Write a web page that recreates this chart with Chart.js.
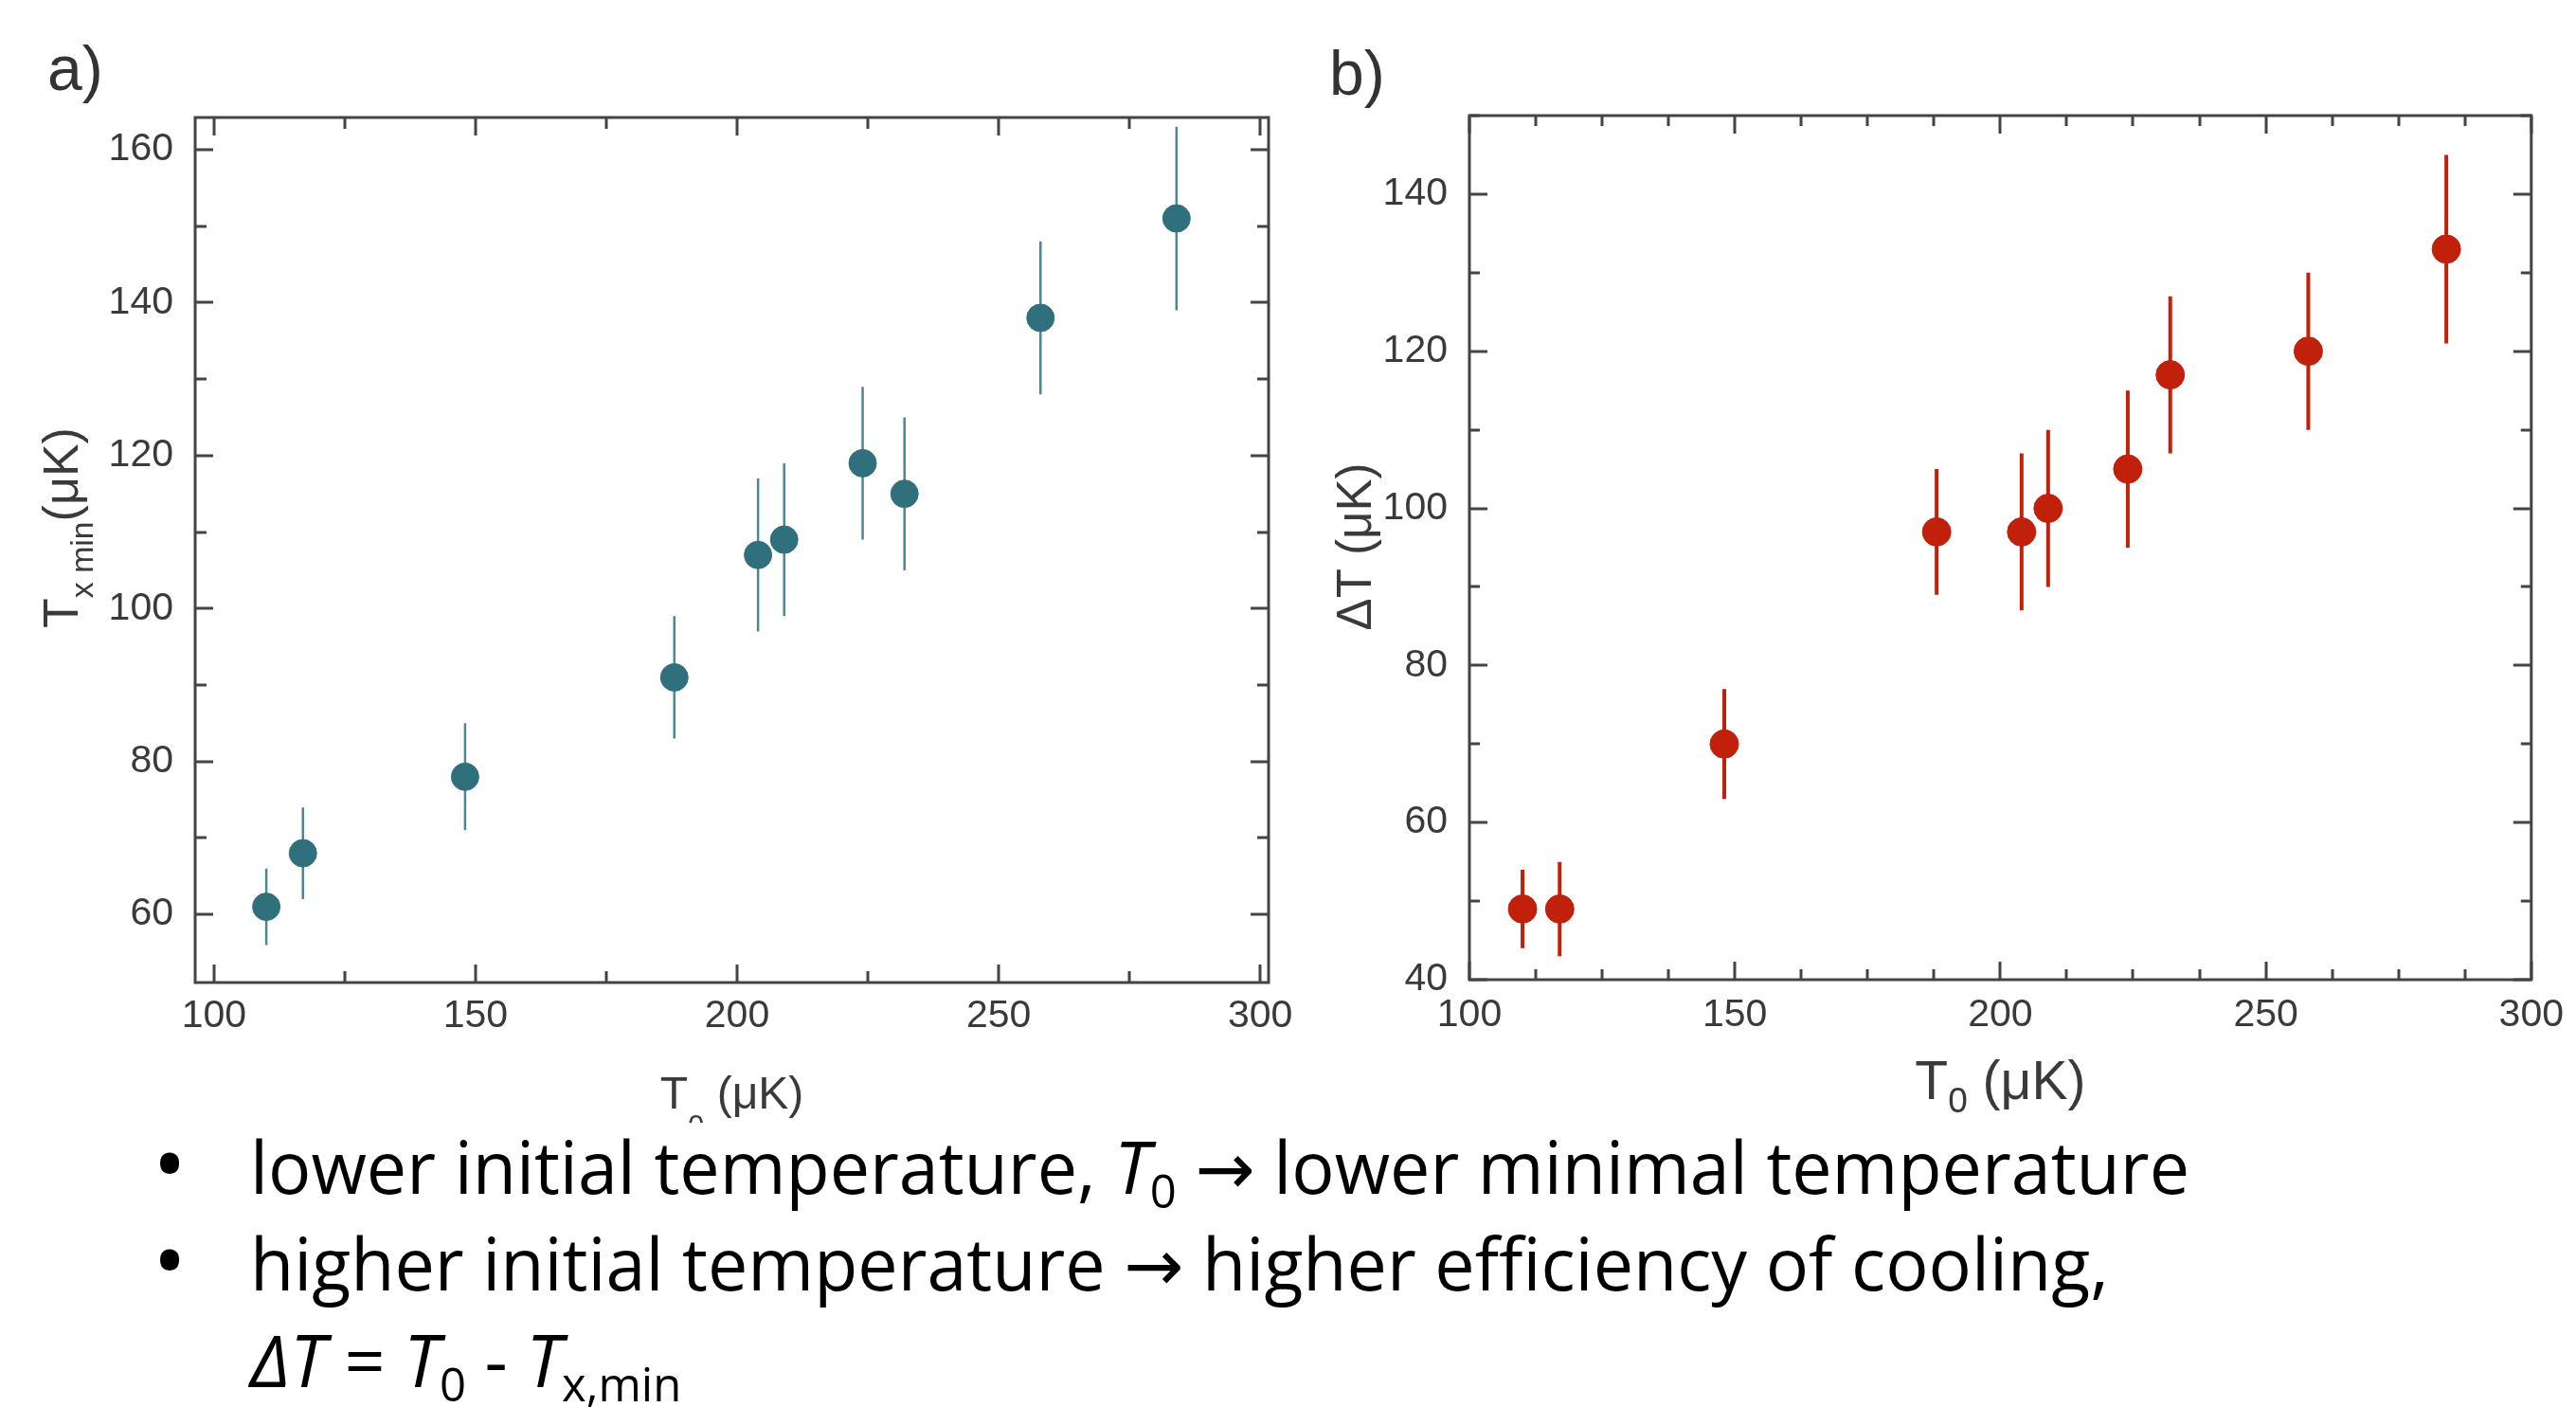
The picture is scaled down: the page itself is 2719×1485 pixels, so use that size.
<!DOCTYPE html>
<html>
<head>
<meta charset="utf-8">
<script src="https://cdn.jsdelivr.net/npm/chart.js@4.4.0/dist/chart.umd.min.js"></script>
<style>
  html, body { margin: 0; padding: 0; background: #fff; width: 2719px; height: 1485px; overflow: hidden; }
  body { position: relative; font-family: "Liberation Sans", Arial, sans-serif; }
  canvas { position: absolute; top: 0; }
  #chartA { left: 0; }
  #chartB { left: 1360px; }
  .panel { position: absolute; font-size: 66px; line-height: 1; color: #333; }
  .line { position: absolute; left: 264px; font-family: "Open Sans", sans-serif; font-size: 76px; line-height: 1; color: #000; white-space: nowrap; transform-origin: 0 0; }
  .dot { position: absolute; left: 161px; font-family: "Open Sans", sans-serif; font-size: 96px; line-height: 1; color: #000; }
  .arr { font-family: "DejaVu Sans", sans-serif; }
  sub { font-size: 0.65em; vertical-align: -0.3em; line-height: 0; font-style: normal; }
</style>
</head>
<body>
<canvas id="chartA" width="1400" height="1185"></canvas>
<canvas id="chartB" width="1359" height="1200"></canvas>

<div class="panel" style="left:50px; top:39px">a)</div>
<div class="panel" style="left:1403px; top:44px">b)</div>

<div class="dot" style="top:1178px">•</div>
<div class="line" style="top:1193px">lower initial temperature, <i>T</i><sub>0</sub> <span class="arr">→</span> lower minimal temperature</div>
<div class="dot" style="top:1280px">•</div>
<div class="line" style="top:1295px">higher initial temperature <span class="arr">→</span> higher efficiency of cooling,</div>
<div class="line" style="top:1397px"><i>ΔT</i> = <i>T</i><sub>0</sub> - <i>T</i><sub>x,min</sub></div>

<script>
// initial temperature T0 (µK), shared by both panels
const t0 = [110, 117, 148, 188, 204, 209, 224, 232, 258, 284]
// panel a: minimal temperature and its error
const txMin = [61, 68, 78, 91, 107, 109, 119, 115, 138, 151]
const txMinErr = [5, 6, 7, 8, 10, 10, 10, 10, 10, 12]
// panel b: cooling efficiency ΔT and its error
const deltaT = [49, 49, 70, 97, 97, 100, 105, 117, 120, 133]
const deltaTErr = [5, 6, 7, 8, 10, 10, 10, 10, 10, 12]

const axisColor = '#444'
const textColor = '#3a3a3a'
const fontFamily = '"Liberation Sans", Arial, sans-serif'

const points = (xs, ys) => xs.map((x, i) => ({x: x, y: ys[i]}))
// vertical error bars as one broken line: low, high, gap
const errorSegments = (xs, ys, es) => xs.flatMap((x, i) => [
    {x: x, y: ys[i] - es[i]},
    {x: x, y: ys[i] + es[i]},
    {x: x, y: null}
])

const isMajor = (v, step) => Math.abs(v / step - Math.round(v / step)) < 1e-6

const drawRich = (ctx, t, x, y, rotate) => {
    ctx.save()
    ctx.translate(x, y)
    if (rotate) ctx.rotate(-Math.PI / 2)
    ctx.fillStyle = textColor
    ctx.textBaseline = 'alphabetic'
    const sizes = t.parts.map(p => p.sub ? t.size * 0.65 : t.size)
    let total = 0
    const widths = t.parts.map((p, i) => {
        ctx.font = sizes[i] + 'px ' + fontFamily
        const w = ctx.measureText(p.t).width
        total += w
        return w
    })
    let cx = -total / 2
    t.parts.forEach((p, i) => {
        ctx.font = sizes[i] + 'px ' + fontFamily
        ctx.fillText(p.t, cx, p.sub ? t.size * (t.subShift || 0.3) : 0)
        cx += widths[i]
    })
    ctx.restore()
}

// box round the plot with inward ticks on all four sides, plus axis titles
const frame = {
    id: 'frame',
    afterDraw(chart, args, o) {
        const {ctx, chartArea: a, scales: {x, y}} = chart
        ctx.save()
        ctx.strokeStyle = axisColor
        ctx.lineWidth = 3
        ctx.beginPath()
        for (let v = Math.ceil(x.min / o.minorX) * o.minorX; v <= x.max + 1e-9; v += o.minorX) {
            const px = Math.round(x.getPixelForValue(v))
            const len = isMajor(v, o.majorX) ? o.majorLen : o.minorLen
            ctx.moveTo(px, a.bottom); ctx.lineTo(px, a.bottom - len)
            ctx.moveTo(px, a.top); ctx.lineTo(px, a.top + len)
        }
        for (let v = Math.ceil(y.min / o.minorY) * o.minorY; v <= y.max + 1e-9; v += o.minorY) {
            const py = Math.round(y.getPixelForValue(v))
            const len = isMajor(v, o.majorY) ? o.majorLen : o.minorLen
            ctx.moveTo(a.left, py); ctx.lineTo(a.left + len, py)
            ctx.moveTo(a.right, py); ctx.lineTo(a.right - len, py)
        }
        ctx.stroke()
        ctx.strokeRect(a.left, a.top, a.right - a.left, a.bottom - a.top)
        ctx.restore()

        const t = o.titles
        drawRich(ctx, t.x, (a.left + a.right) / 2, t.x.baseline, false)
        drawRich(ctx, t.y, t.y.baseline, t.y.center, true)
    }
}

const makeChart = (id, s) => new Chart(document.getElementById(id), {
    type: 'scatter',
    data: {
        datasets: [{
            data: points(t0, s.values),
            backgroundColor: s.color,
            borderColor: s.color,
            pointRadius: s.radius,
            pointHoverRadius: s.radius,
            order: 1
        }, {
            type: 'line',
            data: errorSegments(t0, s.values, s.errors),
            showLine: true,
            spanGaps: false,
            borderColor: s.barColor,
            borderWidth: s.barWidth,
            pointRadius: 0,
            order: 2
        }]
    },
    options: {
        responsive: false,
        animation: false,
        devicePixelRatio: 1,
        layout: {padding: {top: s.top, right: s.right, left: 0, bottom: 0}},
        plugins: {
            legend: {display: false},
            tooltip: {enabled: false},
            frame: s.frame
        },
        scales: {
            x: {
                type: 'linear',
                min: s.xMin,
                max: s.xMax,
                grid: {display: false, drawTicks: false},
                border: {display: false},
                ticks: {stepSize: 50, includeBounds: false, padding: s.xPad, color: textColor, font: {family: fontFamily, size: 41}},
                afterFit: scale => { scale.height = s.xHeight }
            },
            y: {
                type: 'linear',
                min: s.yMin,
                max: s.yMax,
                grid: {display: false, drawTicks: false},
                border: {display: false},
                ticks: {stepSize: 20, includeBounds: false, padding: 23, color: textColor, font: {family: fontFamily, size: 41}},
                afterFit: scale => { scale.width = s.yWidth }
            }
        }
    },
    plugins: [frame]
})

makeChart('chartA', {
    values: txMin, errors: txMinErr,
    color: '#30707d', barColor: '#4f8693', barWidth: 2.5, radius: 14.5,
    xMin: 96.4, xMax: 301.6, yMin: 51.1, yMax: 164.2,
    top: 124, right: 61, xHeight: 148, yWidth: 206, xPad: 11,
    frame: {
        majorX: 50, minorX: 25, majorY: 20, minorY: 10, majorLen: 19, minorLen: 12,
        titles: {
            x: {parts: [{t: 'T'}, {t: '0', sub: true}, {t: ' (μK)'}], baseline: 1170, size: 48, subShift: 0.6},
            y: {parts: [{t: 'T'}, {t: 'x min', sub: true}, {t: '(μK)'}], baseline: 82, center: 557, size: 52}
        }
    }
})

makeChart('chartB', {
    values: deltaT, errors: deltaTErr,
    color: '#c1200b', barColor: '#c1200b', barWidth: 4, radius: 15,
    xMin: 100, xMax: 300, yMin: 40, yMax: 150,
    top: 122, right: 36, xHeight: 166, yWidth: 191, xPad: 13,
    frame: {
        majorX: 50, minorX: 12.5, majorY: 20, minorY: 10, majorLen: 19, minorLen: 11,
        titles: {
            x: {parts: [{t: 'T'}, {t: '0', sub: true}, {t: ' (μK)'}], baseline: 1160, size: 57, subShift: 0.25},
            y: {parts: [{t: 'ΔT (μK)'}], baseline: 87, center: 577, size: 51}
        }
    }
})

// squeeze the bullet lines to the width of the original narrow face
const fitLines = () => {
    const lines = document.querySelectorAll('.line')
    lines.forEach(l => { l.style.transform = 'none' })
    const k = 2047 / lines[0].getBoundingClientRect().width
    lines.forEach(l => { l.style.transform = 'scaleX(' + k + ')' })
}
fitLines()
document.fonts.ready.then(fitLines)
</script>
</body>
</html>
